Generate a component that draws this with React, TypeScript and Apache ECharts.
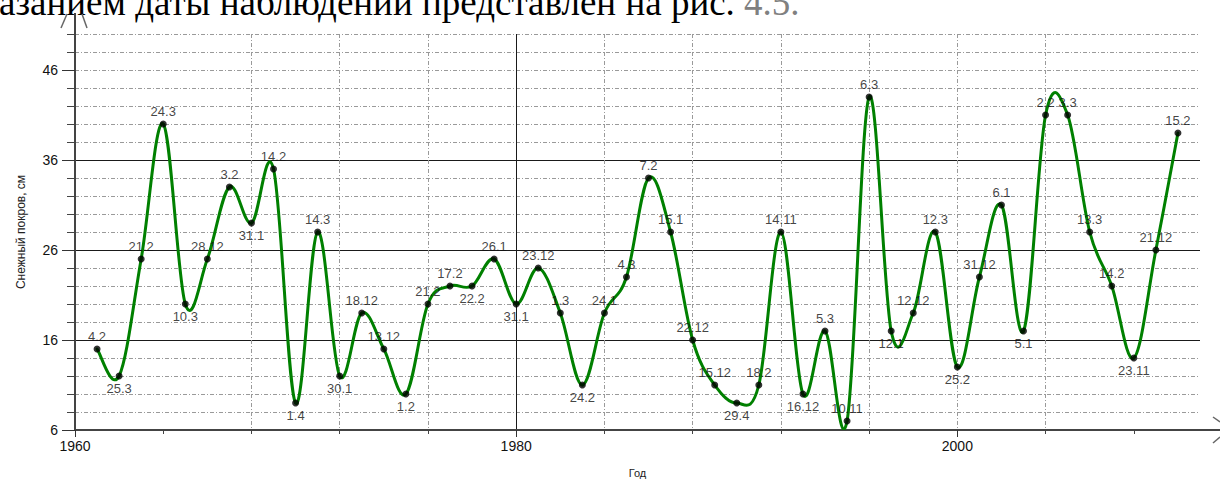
import React, { useEffect, useRef } from "react";
import * as echarts from "echarts";

// ---- data ----
const years = [
  1961, 1962, 1963, 1964, 1965, 1966, 1967, 1968, 1969, 1970,
  1971, 1972, 1973, 1974, 1975, 1976, 1977, 1978, 1979, 1980,
  1981, 1982, 1983, 1984, 1985, 1986, 1987, 1988, 1989, 1990,
  1991, 1992, 1993, 1994, 1995, 1996, 1997, 1998, 1999, 2000,
  2001, 2002, 2003, 2004, 2005, 2006, 2007, 2008, 2009, 2010,
];
const snowDepth = [
  15, 12, 25, 40, 20, 25, 33, 29, 35, 9,
  28, 12, 19, 15, 10, 20, 22, 22, 25, 20,
  24, 19, 11, 19, 23, 34, 28, 16, 11, 9,
  11, 28, 10, 17, 7, 43, 17, 19, 28, 13,
  23, 31, 17, 41, 41, 28, 22, 14, 26, 39,
];
const dateLabels = [
  "4.2", "25.3", "21.2", "24.3", "10.3", "28.12", "3.2", "31.1", "14.2", "1.4",
  "14.3", "30.1", "18.12", "13.12", "1.2", "21.2", "17.2", "22.2", "26.1", "31.1",
  "23.12", "1.3", "24.2", "24.1", "4.3", "7.2", "15.1", "22.12", "15.12", "29.4",
  "18.2", "14.11", "16.12", "5.3", "10.11", "6.3", "12.1", "12.12", "12.3", "25.2",
  "31.12", "6.1", "5.1", "2.2", "3.3", "13.3", "14.2", "23.11", "21.12", "15.2",
];
// t = label above the point, b = label below
const labelSide = [
  "t", "b", "t", "t", "b", "t", "t", "b", "t", "b",
  "t", "b", "t", "t", "b", "t", "t", "b", "t", "b",
  "t", "t", "b", "t", "t", "t", "t", "t", "t", "b",
  "t", "t", "b", "t", "t", "t", "b", "t", "t", "b",
  "t", "t", "b", "t", "t", "t", "t", "b", "t", "t",
];
const yMajorTicks = [6, 16, 26, 36, 46];
const xMajorTicks = [1960, 1980, 2000];
const xMinorTicks = [1964, 1968, 1972, 1976, 1980, 1984, 1988, 1992, 1996, 2000, 2004, 2008];

const X_MIN = 1960;
const X_MAX = 2011;
const Y_MIN = 6;
const Y_MAX = 50;

const SANS = '"Liberation Sans", Arial, sans-serif';
const TENSION = 0.176;

export default function App() {
  const ref = useRef<HTMLDivElement>(null);

  useEffect(() => {
    if (!ref.current) return;
    const chart = echarts.init(ref.current, null, { renderer: "svg" });
    const n = years.length;
    const clampIdx = (j: number) => Math.max(0, Math.min(n - 1, j));

    const dotted = { color: "#9a9a9a", width: 1, type: [4, 2, 1, 2] as any };
    const axisLineStyle = { color: "#444", width: 2 };

    const option: any = {
      animation: false,
      backgroundColor: "#fff",
      grid: { left: 75, right: 20, top: 34, bottom: 49, containLabel: false, outerBoundsMode: "none" },
      xAxis: [
        {
          type: "value",
          min: X_MIN,
          max: X_MAX,
          interval: 4,
          position: "bottom",
          name: "Год",
          nameLocation: "middle",
          nameGap: 37,
          nameTextStyle: { fontFamily: SANS, fontSize: 11, color: "#222" },
          axisLine: { show: true, onZero: false, lineStyle: axisLineStyle },
          axisTick: { show: true, length: 4, customValues: xMinorTicks, lineStyle: { color: "#444" } },
          axisLabel: { show: false },
          splitLine: { show: true, showMinLine: false, showMaxLine: false, lineStyle: dotted },
        },
        {
          type: "value",
          min: X_MIN,
          max: X_MAX,
          interval: 20,
          position: "bottom",
          axisLine: { show: false, onZero: false },
          axisTick: { show: true, length: 7, customValues: xMajorTicks, lineStyle: { color: "#333" } },
          axisLabel: {
            show: true,
            customValues: xMajorTicks,
            formatter: (v: number) => String(v),
            margin: 9,
            fontFamily: SANS,
            fontSize: 14,
            color: "#111",
          },
          splitLine: { show: true, showMinLine: false, showMaxLine: false, lineStyle: { color: "#1a1a1a", width: 1 } },
        },
      ],
      yAxis: [
        {
          type: "value",
          min: Y_MIN,
          max: Y_MAX,
          interval: 2,
          position: "left",
          name: "Снежный покров, см",
          nameLocation: "middle",
          nameGap: 48,
          nameRotate: 90,
          nameTextStyle: { fontFamily: SANS, fontSize: 12, color: "#222" },
          axisLine: { show: true, onZero: false, lineStyle: axisLineStyle },
          axisTick: { show: true, length: 8, lineStyle: { color: "#444" } },
          axisLabel: { show: false },
          splitLine: { show: true, showMinLine: false, showMaxLine: true, lineStyle: dotted },
        },
        {
          type: "value",
          min: Y_MIN,
          max: Y_MAX,
          interval: 10,
          position: "left",
          axisLine: { show: false, onZero: false },
          axisTick: { show: true, length: 13, customValues: yMajorTicks, lineStyle: { color: "#333" } },
          axisLabel: {
            show: true,
            customValues: yMajorTicks,
            formatter: (v: number) => String(v),
            margin: 17,
            fontFamily: SANS,
            fontSize: 14,
            color: "#111",
          },
          splitLine: { show: true, showMinLine: false, showMaxLine: false, lineStyle: { color: "#1a1a1a", width: 1 } },
        },
      ],
      series: [
        {
          type: "custom",
          name: "curve",
          xAxisIndex: 0,
          yAxisIndex: 0,
          clip: true,
          z: 3,
          data: years.map((y, i) => [y, snowDepth[i]]),
          encode: { x: 0, y: 1 },
          renderItem: (params: any, api: any) => {
            const i = params.dataIndex;
            if (i >= n - 1) return null;
            const pt = (j: number) => {
              const k = clampIdx(j);
              return api.coord([years[k], snowDepth[k]]);
            };
            const p0 = pt(i - 1);
            const p1 = pt(i);
            const p2 = pt(i + 1);
            const p3 = pt(i + 2);
            return {
              type: "bezierCurve",
              shape: {
                x1: p1[0],
                y1: p1[1],
                x2: p2[0],
                y2: p2[1],
                cpx1: p1[0] + TENSION * (p2[0] - p0[0]),
                cpy1: p1[1] + TENSION * (p2[1] - p0[1]),
                cpx2: p2[0] - TENSION * (p3[0] - p1[0]),
                cpy2: p2[1] - TENSION * (p3[1] - p1[1]),
              },
              style: { stroke: "#008000", lineWidth: 3, fill: null, lineCap: "round" },
            };
          },
        },
        {
          type: "scatter",
          name: "points",
          xAxisIndex: 0,
          yAxisIndex: 0,
          z: 4,
          symbol: "circle",
          symbolSize: 7,
          itemStyle: { color: "#000" },
          data: years.map((y, i) => ({
            value: [y, snowDepth[i]],
            label: {
              position: labelSide[i] === "t" ? "top" : "bottom",
              distance: labelSide[i] === "t" ? 3 : 2,
            },
          })),
          label: {
            show: true,
            formatter: (p: any) => dateLabels[p.dataIndex],
            fontFamily: SANS,
            fontSize: 13,
            color: "#111",
          },
        },
      ],
      graphic: [
        {
          type: "text",
          x: -1,
          y: 2,
          silent: true,
          style: {
            text: "азанием даты наблюдений представлен на рис. {g|4.5.}",
            font: '37px "Liberation Serif", "Times New Roman", serif',
            fill: "#000",
            align: "left",
            verticalAlign: "middle",
            rich: {
              g: { fill: "#808080", font: '37px "Liberation Serif", "Times New Roman", serif' },
            },
          },
        },
        { type: "line", silent: true, shape: { x1: 75, y1: 34, x2: 75, y2: 13 }, style: { stroke: "#444", lineWidth: 2 } },
        { type: "line", silent: true, shape: { x1: 61, y1: 28, x2: 67, y2: 14 }, style: { stroke: "#666", lineWidth: 1.5 } },
        { type: "line", silent: true, shape: { x1: 82, y1: 14, x2: 87, y2: 28 }, style: { stroke: "#666", lineWidth: 1.5 } },
        { type: "line", silent: true, shape: { x1: 1200, y1: 430, x2: 1220, y2: 430 }, style: { stroke: "#444", lineWidth: 2 } },
        { type: "line", silent: true, shape: { x1: 1213, y1: 417, x2: 1220, y2: 422 }, style: { stroke: "#666", lineWidth: 1.5 } },
        { type: "line", silent: true, shape: { x1: 1213, y1: 443, x2: 1220, y2: 437 }, style: { stroke: "#666", lineWidth: 1.5 } },
      ],
    };

    chart.setOption(option);
    return () => chart.dispose();
  }, []);

  return (
    <div
      ref={ref}
      style={{ position: "fixed", left: 0, top: 0, width: 1220, height: 479, background: "#fff" }}
    />
  );
}
